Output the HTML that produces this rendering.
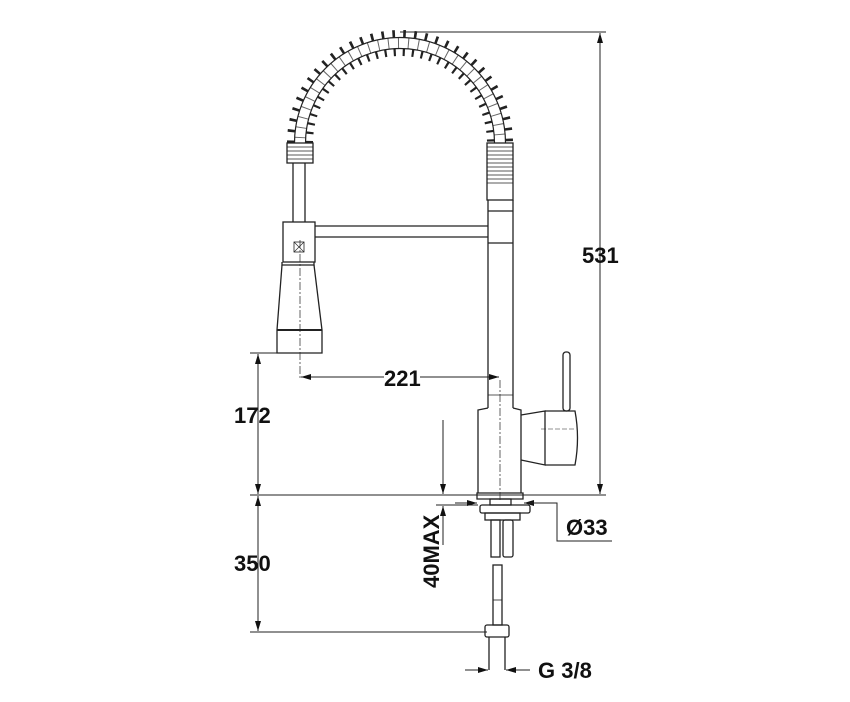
<!DOCTYPE html>
<html><head><style>
html,body{margin:0;padding:0;background:#fff;}
svg{display:block;}
text{font-family:"Liberation Sans",Arial,sans-serif;font-weight:bold;font-size:22px;fill:#111;}
</style></head><body>
<svg width="850" height="702" viewBox="0 0 850 702" xmlns="http://www.w3.org/2000/svg">
<defs>
<marker id="a" viewBox="0 0 10 6" refX="10" refY="3" markerWidth="12" markerHeight="6" orient="auto-start-reverse" markerUnits="userSpaceOnUse"><path d="M0,0 L10,3 L0,6 z" fill="#111"/></marker>
</defs>
<g fill="none" stroke="#222" stroke-width="1.3">
<!-- spring -->
<path d="M300,143 A100,100 0 0 1 500,143" stroke-width="26" stroke="#222" stroke-dasharray="2.4 7.6"/>
<path d="M300,143 A100,100 0 0 1 500,143" stroke-width="11" stroke="#fff"/>
<path d="M300,143 A100,100 0 0 1 500,143" stroke-width="11" stroke="#666" stroke-dasharray="1 9" stroke-dashoffset="5"/>
<path d="M294.5,143 A105.5,105.5 0 0 1 505.5,143" stroke-width="1.2"/>
<path d="M305.5,143 A94.5,94.5 0 0 1 494.5,143" stroke-width="1.2"/>
<!-- left coil tube -->
<rect x="287" y="143" width="26" height="20"/>
<path d="M287,147h26M287,151h26M287,155h26M287,159h26" stroke-width="0.8"/>
<!-- right coil tube -->
<rect x="487" y="143" width="26" height="57"/>
<path d="M487,147h26M487,151h26M487,155h26M487,159h26M487,163h26M487,167h26M487,171h26M487,175h26M487,179h26M487,183h26" stroke-width="0.8"/>
<!-- left tube -->
<path d="M293,163V222M305,163V222"/>
<!-- left block -->
<rect x="283" y="222" width="32" height="40"/>
<rect x="294" y="242" width="10" height="10" stroke-width="0.8"/>
<path d="M294,242l10,10M304,242l-10,10" stroke-width="0.6"/>
<!-- arm -->
<path d="M315,226H488M315,237H488"/>
<!-- right column -->
<path d="M488,200V408M513,200V408M488,211h25M488,243h25"/>
<!-- spray head -->
<path d="M282,262 L282,265 L314,265 L314,262"/>
<path d="M282,265 L277,330 L277,353 L322,353 L322,330 L314,265"/>
<path d="M277,330H322" stroke-width="2"/>
<!-- centerline -->
<path d="M300,240V380" stroke-width="0.7" stroke-dasharray="8 2 2 2"/>
<path d="M500,380V500" stroke-width="0.7" stroke-dasharray="8 2 2 2"/>
<!-- neck -->
<path d="M488,395h25" stroke-width="0.8"/>
<!-- body -->
<path d="M478,493 V410 L488,408 M513,408 L521,410 V493"/>
<path d="M477,493 H523 V499 H477 Z"/>
<!-- handle -->
<path d="M521,415 L545,411 L545,465 L521,460"/>
<path d="M545,411 H575 Q580,438 575,465 H545"/>
<path d="M541,429 H575" stroke-width="0.6" stroke-dasharray="5 2"/>
<rect x="563" y="352" width="7" height="59" rx="3"/>
<!-- below deck -->
<rect x="490" y="499" width="21" height="6"/>
<rect x="480" y="505" width="50" height="8" rx="2"/>
<rect x="485" y="513" width="35" height="7"/>
<rect x="491" y="520" width="9" height="37"/>
<rect x="503" y="520" width="10" height="37" rx="2"/>
<rect x="493" y="565" width="9" height="60"/>
<path d="M493,600h9" stroke-width="0.8"/>
<rect x="485" y="625" width="24" height="12" rx="2"/>
<path d="M489,637V670M505,637V670"/>
</g>
<!-- dimensions -->
<g fill="none" stroke="#222" stroke-width="1">
<path d="M400,32H606M250,495H606M250,353H300M250,632H487"/>
<path d="M600,33V494" marker-start="url(#a)" marker-end="url(#a)"/>
<path d="M258,354V494" marker-start="url(#a)" marker-end="url(#a)"/>
<path d="M258,496V631" marker-start="url(#a)" marker-end="url(#a)"/>
<path d="M301,377H384M420,377H499" />
<path d="M301,377h12" marker-start="url(#a)"/>
<path d="M488,377h11" marker-end="url(#a)"/>
<path d="M443,420V494" marker-end="url(#a)"/>
<path d="M443,545V506" marker-end="url(#a)"/>
<path d="M436,505H478"/>
<path d="M455,503H477" marker-end="url(#a)"/>
<path d="M545,503H524" marker-end="url(#a)"/>
<path d="M524,503H557V541H612"/>
<path d="M465,670H488" marker-end="url(#a)"/>
<path d="M530,670H506" marker-end="url(#a)"/>
</g>
<text x="582" y="263">531</text>
<text x="234" y="423">172</text>
<text x="234" y="571">350</text>
<text x="384" y="386">221</text>
<text x="566" y="535">Ø33</text>
<text x="538" y="678">G 3/8</text>
<text transform="translate(439,588) rotate(-90)">40MAX</text>
</svg>
</body></html>
